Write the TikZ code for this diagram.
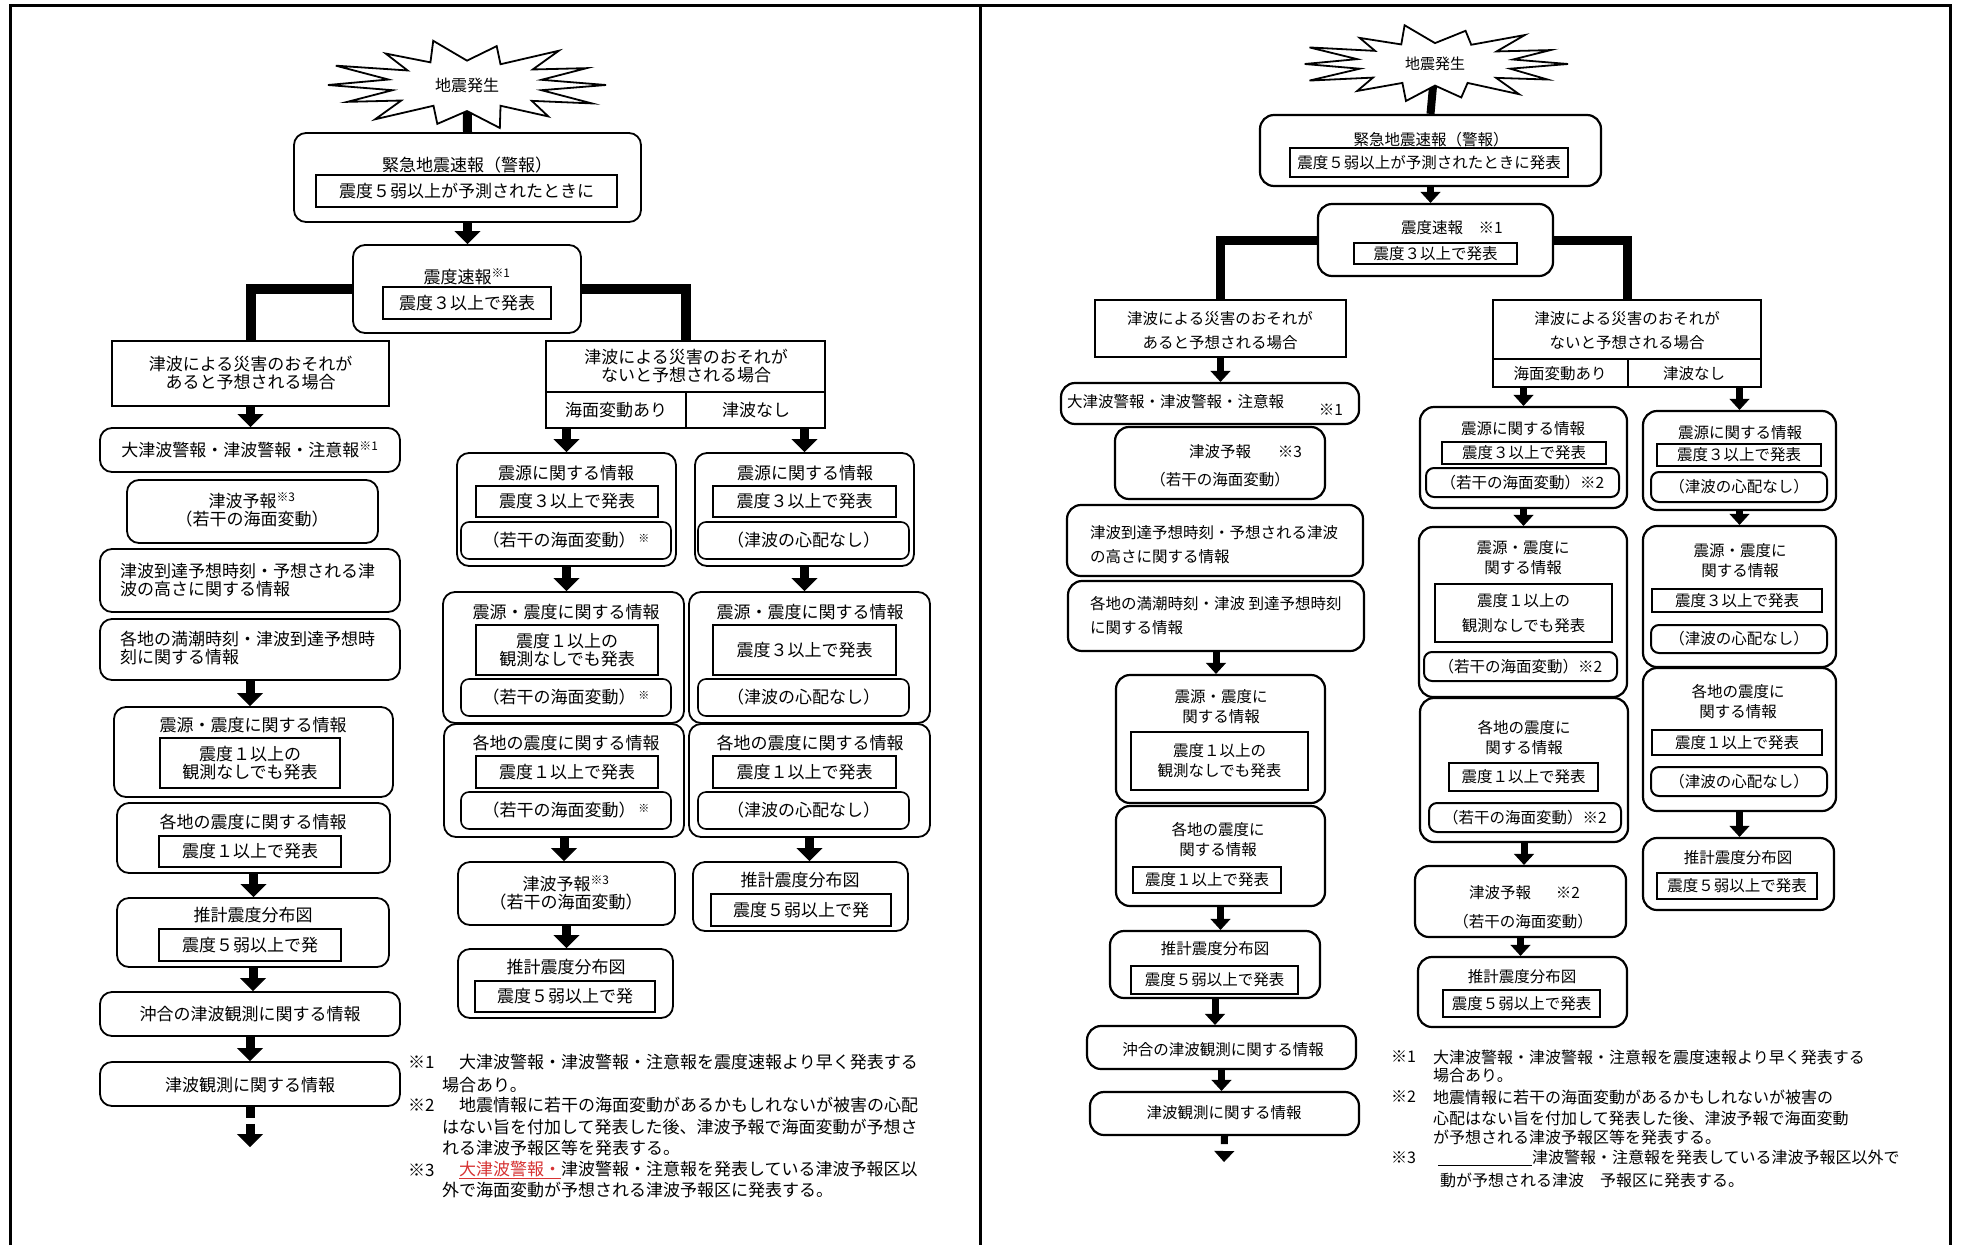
\documentclass[tikz,border=0pt]{standalone}
\usepackage{fontspec}
\setmainfont{Noto Sans CJK JP}
\usetikzlibrary{arrows.meta}
\definecolor{fnred}{RGB}{214,50,50}
\newcommand\Lf{\fontsize{17pt}{18pt}\selectfont}
\newcommand\Rf{\fontsize{15.5pt}{20pt}\selectfont}
\newcommand\Rfw{\fontsize{15.5pt}{24pt}\selectfont}
\newcommand\Ff{\fontsize{16pt}{18pt}\selectfont}
\newcommand\Ast{（若干の海面変動）\,\raisebox{4pt}{\fontsize{11pt}{11pt}\selectfont ※}}
\tikzset{
  every node/.style={inner sep=0pt},
  rbox/.style={draw,line width=1.8pt,rounded corners=12pt,fill=white},
  rbox2/.style={draw,line width=2.2pt,rounded corners=14pt,fill=white},
  sbox/.style={draw,line width=1.8pt,fill=white},
  sbox2/.style={draw,line width=2.2pt,fill=white},
  ibox/.style={draw,line width=1.6pt,align=center,font=\Lf},
  irbox/.style={draw,line width=1.6pt,rounded corners=8pt,align=center,font=\Lf},
  ibox2/.style={draw,line width=2pt,align=center,font=\Rf},
  irbox2/.style={draw,line width=2pt,rounded corners=8pt,align=center,font=\Rf},
  tL/.style={font=\Lf,align=center},
  tR/.style={font=\Rf,align=center},
  fR/.style={font=\Ff,anchor=west},
  fL/.style={font=\Lf,anchor=west},
  arrL/.style={line width=9pt,-{Triangle[width=26pt,length=13pt,line width=1pt]}},
  arrR/.style={line width=7pt,-{Triangle[width=20pt,length=11pt,line width=1pt]}},
  branchL/.style={line width=10pt,line join=miter},
  branchR/.style={line width=9pt,line join=miter},
  burstline/.style={draw,line width=1.8pt,fill=white,line join=miter},
  frame/.style={line width=3pt},
  divider/.style={line width=1.8pt},
}
\newcommand\bx[6][rbox]{\node[#1,minimum width={#4-#2},minimum height={#5-#3}] (#6) at ({(#2+#4)/2},{(#3+#5)/2}) {};}
\newcommand\bxt[7][ibox]{\node[#1,minimum width={#4-#2},minimum height={#5-#3}] (#6) at ({(#2+#4)/2},{(#3+#5)/2}) {#7};}
\begin{document}
\begin{tikzpicture}[x=1pt,y=-1pt]
\useasboundingbox (0,0) rectangle (1961,1245);
\fill[white] (0,0) rectangle (1961,1245);
% page frames
\draw[frame] (10,1245) -- (10,5) -- (1950,5) -- (1950,1245);
\draw[frame] (980,5) -- (980,1245);

% ================= LEFT PAGE =================
\coordinate (burstLc) at (467,85);
\bx{294}{133}{641}{222}{A}
\draw[line width=9pt] (burstLc) -- (A.north);
\draw[burstline,shift={(burstLc)},xscale=139,yscale=42] (0:1)
  \foreach \a/\r in {13/0.55,26/1.0,39/0.6,52/0.95,64/0.55,77/1.05,90/0.62,103/0.95,116/0.55,129/1.05,142/0.6,155/0.95,167/0.55,180/1.0,193/0.58,206/1.05,219/0.55,232/0.95,244/0.6,257/1.08,270/0.58,283/0.95,296/0.55,309/1.05,322/0.6,335/0.95,347/0.55} { -- (\a:\r) } -- cycle;
\node[font=\fontsize{16pt}{16pt}\selectfont] (burstL) at (burstLc) {地震発生};
\node[tL] (At) at (467,165) {緊急地震速報（警報）};
\bxt{316}{175}{617}{207}{Ai}{震度５弱以上が予測されたときに}
\bx{353}{245}{581}{333}{B}
\node[tL] (Bt) at (467,277) {震度速報\textsuperscript{※1}};
\bxt{383}{287}{551}{319}{Bi}{震度３以上で発表}
\bx[sbox]{112}{341}{389}{406}{C}
\node[tL] (Ct) at (C) {津波による災害のおそれが\\あると予想される場合};
\bx[sbox]{546}{341}{825}{428}{D}
\draw[divider] (546,392) -- (825,392);
\draw[divider] (686,392) -- (686,428);
\node[tL] (Dt) at (686,366) {津波による災害のおそれが\\ないと予想される場合};
\node[tL] (Da) at (616,410) {海面変動あり};
\node[tL] (Db) at (756,410) {津波なし};
% left column
\bx{100}{428}{400}{472}{E}
\node[tL] (Et) at (250,450) {大津波警報・津波警報・注意報\textsuperscript{※1}};
\bx{127}{480}{378}{543}{F}
\node[tL] (Ft) at (252,510) {津波予報\textsuperscript{※3}\\（若干の海面変動）};
\bx{100}{549}{400}{612}{G}
\node[tL,align=left,anchor=west] (Gt) at (120,580) {津波到達予想時刻・予想される津\\波の高さに関する情報};
\bx{100}{619}{400}{680}{H}
\node[tL,align=left,anchor=west] (Ht) at (120,648) {各地の満潮時刻・津波到達予想時\\刻に関する情報};
\bx{114}{707}{393}{797}{I}
\node[tL] (It) at (253,725) {震源・震度に関する情報};
\bxt{160}{738}{340}{788}{Ii}{震度１以上の\\観測なしでも発表}
\bx{117}{803}{390}{873}{J}
\node[tL] (Jt) at (253,822) {各地の震度に関する情報};
\bxt{159}{836}{341}{867}{Ji}{震度１以上で発表}
\bx{117}{898}{389}{967}{K}
\node[tL] (Kt) at (253,915) {推計震度分布図};
\bxt{159}{929}{341}{961}{Ki}{震度５弱以上で発}
\bx{100}{992}{400}{1036}{L}
\node[tL] (Lt) at (250,1014) {沖合の津波観測に関する情報};
\bx{100}{1062}{400}{1106}{M}
\node[tL] (Mt) at (250,1085) {津波観測に関する情報};
\coordinate (Mend) at (250,1147);
% middle column
\bx{457}{453}{676}{566}{N}
\node[tL] (Nt) at (566,473) {震源に関する情報};
\bxt{476}{486}{658}{517}{Ni}{震度３以上で発表}
\bxt[irbox]{461}{522}{671}{559}{Nr}{\Ast}
\bx{443}{592}{684}{723}{O}
\node[tL] (Ot) at (566,612) {震源・震度に関する情報};
\bxt{476}{625}{658}{675}{Oi}{震度１以上の\\観測なしでも発表}
\bxt[irbox]{461}{679}{671}{716}{Or}{\Ast}
\bx{444}{724}{684}{837}{P}
\node[tL] (Pt) at (566,743) {各地の震度に関する情報};
\bxt{476}{756}{658}{788}{Pi}{震度１以上で発表}
\bxt[irbox]{461}{792}{671}{829}{Pr}{\Ast}
\bx{458}{862}{675}{925}{Q}
\node[tL] (Qt) at (566,893) {津波予報\textsuperscript{※3}\\（若干の海面変動）};
\bx{458}{949}{673}{1018}{R}
\node[tL] (Rt) at (566,967) {推計震度分布図};
\bxt{475}{981}{655}{1012}{Ri}{震度５弱以上で発}
% right column
\bx{695}{453}{914}{566}{S}
\node[tL] (St) at (805,473) {震源に関する情報};
\bxt{713}{486}{896}{517}{Si}{震度３以上で発表}
\bxt[irbox]{698}{522}{909}{559}{Sr}{（津波の心配なし）}
\bx{689}{592}{930}{723}{T}
\node[tL] (Tt) at (810,612) {震源・震度に関する情報};
\bxt{713}{625}{896}{675}{Ti}{震度３以上で発表}
\bxt[irbox]{698}{679}{909}{716}{Tr}{（津波の心配なし）}
\bx{689}{724}{930}{837}{U}
\node[tL] (Ut) at (810,743) {各地の震度に関する情報};
\bxt{713}{756}{896}{788}{Ui}{震度１以上で発表}
\bxt[irbox]{698}{792}{909}{829}{Ur}{（津波の心配なし）}
\bx{693}{862}{908}{931}{V}
\node[tL] (Vt) at (800,880) {推計震度分布図};
\bxt{711}{894}{891}{926}{Vi}{震度５弱以上で発}
% connectors left page
\draw[arrL] (A.south) -- (A.south |- B.north);
\draw[branchL] (B.west) -| (C.north);
\draw[branchL] (B.east) -| (D.north);
\draw[arrL] (C.south) -- (C.south |- E.north);
\draw[arrL] (H.south) -- (H.south |- I.north);
\draw[arrL] (J.south) -- (J.south |- K.north);
\draw[arrL] (K.south) -- (K.south |- L.north);
\draw[arrL] (L.south) -- (L.south |- M.north);
\draw[arrL,dash pattern=on 11pt off 6pt on 60pt] (M.south) -- (Mend);
\draw[arrL] (N.north |- D.south) -- (N.north);
\draw[arrL] (N.south) -- (N.south |- O.north);
\draw[arrL] (P.south) -- (P.south |- Q.north);
\draw[arrL] (Q.south) -- (Q.south |- R.north);
\draw[arrL] (S.north |- D.south) -- (S.north);
\draw[arrL] (S.south) -- (S.south |- T.north);
\draw[arrL] (U.south) -- (U.south |- V.north);
% footnotes left
\node[fL] (f1m) at (408,1062) {※1};
\node[fL] (f1a) at (459,1062) {大津波警報・津波警報・注意報を震度速報より早く発表する};
\node[fL] (f1b) at (442,1085) {場合あり。};
\node[fL] (f2m) at (408,1105) {※2};
\node[fL] (f2a) at (459,1105) {地震情報に若干の海面変動があるかもしれないが被害の心配};
\node[fL] (f2b) at (442,1127) {はない旨を付加して発表した後、津波予報で海面変動が予想さ};
\node[fL] (f2c) at (442,1148) {れる津波予報区等を発表する。};
\node[fL] (f3m) at (408,1170) {※3};
\node[fL] (f3a) at (459,1170) {\textcolor{fnred}{\underline{大津波警報・}}津波警報・注意報を発表している津波予報区以};
\node[fL] (f3b) at (442,1190) {外で海面変動が予想される津波予報区に発表する。};

% ================= RIGHT PAGE =================
\coordinate (burstRc) at (1435,64);
\bx[rbox2]{1260}{115}{1601}{186}{A2}
\draw[line width=8pt] (burstRc) -- (A2.north);
\draw[burstline,shift={(burstRc)},xscale=133,yscale=36] (0:1)
  \foreach \a/\r in {13/0.58,27/0.95,40/0.6,53/1.05,65/0.58,78/0.95,90/0.6,102/1.05,115/0.58,128/0.95,141/0.6,154/1.05,167/0.58,180/0.98,193/0.6,206/1.05,219/0.58,232/0.92,245/0.6,258/1.1,270/0.58,284/0.95,297/0.6,310/1.05,323/0.58,336/0.95,348/0.6} { -- (\a:\r) } -- cycle;
\node[font=\fontsize{15pt}{15pt}\selectfont] (burstR) at (burstRc) {地震発生};
\node[tR] (A2t) at (1431,140) {緊急地震速報（警報）};
\bxt[ibox2]{1290}{148}{1568}{177}{A2i}{震度５弱以上が予測されたときに発表}
\bx[rbox2]{1318}{204}{1553}{276}{B2}
\node[tR] (B2t) at (1452,228) {震度速報\quad ※1};
\bxt[ibox2]{1354}{243}{1517}{264}{B2i}{震度３以上で発表}
\bx[sbox2]{1095}{300}{1346}{357}{C2}
\node[tR,font=\Rfw] (C2t) at (1220,331) {津波による災害のおそれが\\あると予想される場合};
\bx[sbox2]{1493}{300}{1761}{387}{D2}
\draw[divider] (1493,359) -- (1761,359);
\draw[divider] (1628,359) -- (1628,387);
\node[tR,font=\Rfw] (D2t) at (1627,331) {津波による災害のおそれが\\ないと予想される場合};
\node[tR] (D2a) at (1560,374) {海面変動あり};
\node[tR] (D2b) at (1694,374) {津波なし};
% left column right page
\bx[rbox2]{1061}{383}{1359}{424}{E2}
\node[tR,anchor=west] (E2t) at (1067,402) {大津波警報・津波警報・注意報};
\node[tR] (E2n) at (1331,410) {※1};
\bx[rbox2]{1115}{427}{1325}{499}{F2}
\node[tR] (F2t) at (1220,452) {津波予報};
\node[tR] (F2n) at (1290,452) {※3};
\node[tR] (F2u) at (1220,480) {（若干の海面変動）};
\bx[rbox2]{1067}{505}{1363}{576}{G2}
\node[tR,font=\Rfw,align=left,anchor=west] (G2t) at (1090,545) {津波到達予想時刻・予想される津波\\の高さに関する情報};
\bx[rbox2]{1068}{581}{1364}{651}{H2}
\node[tR,font=\Rfw,align=left,anchor=west] (H2t) at (1090,616) {各地の満潮時刻・津波 到達予想時刻\\に関する情報};
\bx[rbox2]{1116}{675}{1325}{803}{I2}
\node[tR] (I2t) at (1221,707) {震源・震度に\\関する情報};
\bxt[ibox2]{1131}{732}{1308}{790}{I2i}{震度１以上の\\観測なしでも発表}
\bx[rbox2]{1116}{806}{1325}{906}{J2}
\node[tR] (J2t) at (1218,840) {各地の震度に\\関する情報};
\bxt[ibox2]{1133}{867}{1281}{893}{J2i}{震度１以上で発表}
\bx[rbox2]{1110}{931}{1320}{998}{K2}
\node[tR] (K2t) at (1215,949) {推計震度分布図};
\bxt[ibox2]{1131}{966}{1298}{994}{K2i}{震度５弱以上で発表}
\bx[rbox2]{1087}{1026}{1356}{1069}{L2}
\node[tR] (L2t) at (1223,1050) {沖合の津波観測に関する情報};
\bx[rbox2]{1090}{1092}{1359}{1135}{M2}
\node[tR] (M2t) at (1224,1113) {津波観測に関する情報};
\coordinate (M2end) at (1224,1162);
% middle column right page
\bx[rbox2]{1420}{407}{1627}{508}{N2}
\node[tR] (N2t) at (1523,429) {震源に関する情報};
\bxt[ibox2]{1442}{442}{1606}{464}{N2i}{震度３以上で発表}
\bxt[irbox2]{1426}{468}{1619}{497}{N2r}{（若干の海面変動）※2}
\bx[rbox2]{1419}{527}{1627}{697}{O2}
\node[tR] (O2t) at (1523,558) {震源・震度に\\関する情報};
\bxt[ibox2,font=\fontsize{15.5pt}{25pt}\selectfont]{1435}{584}{1612}{642}{O2i}{震度１以上の\\観測なしでも発表}
\bxt[irbox2]{1424}{652}{1617}{681}{O2r}{（若干の海面変動）※2}
\bx[rbox2]{1420}{698}{1628}{842}{P2}
\node[tR] (P2t) at (1524,738) {各地の震度に\\関する情報};
\bxt[ibox2]{1449}{763}{1598}{791}{P2i}{震度１以上で発表}
\bxt[irbox2]{1429}{803}{1621}{832}{P2r}{（若干の海面変動）※2}
\bx[rbox2]{1415}{866}{1626}{937}{Q2}
\node[tR] (Q2a) at (1500,893) {津波予報};
\node[tR] (Q2b) at (1568,893) {※2};
\node[tR] (Q2c) at (1523,922) {（若干の海面変動）};
\bx[rbox2]{1418}{957}{1627}{1027}{R2}
\node[tR] (R2t) at (1522,977) {推計震度分布図};
\bxt[ibox2]{1443}{990}{1600}{1017}{R2i}{震度５弱以上で発表}
% right column right page
\bx[rbox2]{1643}{411}{1836}{510}{S2}
\node[tR] (S2t) at (1740,433) {震源に関する情報};
\bxt[ibox2]{1657}{444}{1821}{466}{S2i}{震度３以上で発表}
\bxt[irbox2]{1651}{472}{1827}{502}{S2r}{（津波の心配なし）}
\bx[rbox2]{1643}{526}{1836}{667}{T2}
\node[tR] (T2t) at (1740,561) {震源・震度に\\関する情報};
\bxt[ibox2]{1652}{589}{1822}{612}{T2i}{震度３以上で発表}
\bxt[irbox2]{1651}{625}{1827}{653}{T2r}{（津波の心配なし）}
\bx[rbox2]{1643}{668}{1836}{811}{U2}
\node[tR] (U2t) at (1738,702) {各地の震度に\\関する情報};
\bxt[ibox2]{1652}{730}{1822}{755}{U2i}{震度１以上で発表}
\bxt[irbox2]{1651}{767}{1827}{796}{U2r}{（津波の心配なし）}
\bx[rbox2]{1643}{838}{1834}{910}{V2}
\node[tR] (V2t) at (1738,858) {推計震度分布図};
\bxt[ibox2]{1657}{873}{1817}{899}{V2i}{震度５弱以上で発表}
% connectors right page
\draw[arrR] (A2.south) -- (A2.south |- B2.north);
\draw[branchR] (B2.west) -| (C2.north);
\draw[branchR] (B2.east) -| (D2.north);
\draw[arrR] (C2.south) -- (C2.south |- E2.north);
\draw[arrR] (H2.south) -- (H2.south |- I2.north);
\draw[arrR] (J2.south) -- (J2.south |- K2.north);
\draw[arrR] (K2.south) -- (K2.south |- L2.north);
\draw[arrR] (L2.south) -- (L2.south |- M2.north);
\draw[arrR,dash pattern=on 8pt off 7pt on 60pt] (M2.south) -- (M2end);
\draw[arrR] (N2.north |- D2.south) -- (N2.north);
\draw[arrR] (N2.south) -- (N2.south |- O2.north);
\draw[arrR] (P2.south) -- (P2.south |- Q2.north);
\draw[arrR] (Q2.south) -- (Q2.south |- R2.north);
\draw[arrR] (S2.north |- D2.south) -- (S2.north);
\draw[arrR] (S2.south) -- (S2.south |- T2.north);
\draw[arrR] (U2.south) -- (U2.south |- V2.north);
% footnotes right
\node[fR] (g1m) at (1391,1057) {※1};
\node[fR] (g1a) at (1433,1057) {大津波警報・津波警報・注意報を震度速報より早く発表する};
\node[fR] (g1b) at (1433,1075) {場合あり。};
\node[fR] (g2m) at (1391,1097) {※2};
\node[fR] (g2a) at (1433,1097) {地震情報に若干の海面変動があるかもしれないが被害の};
\node[fR] (g2b) at (1433,1118) {心配はない旨を付加して発表した後、津波予報で海面変動};
\node[fR] (g2c) at (1433,1137) {が予想される津波予報区等を発表する。};
\node[fR] (g3m) at (1391,1158) {※3};
\node[fR] (g3a) at (1438,1158) {\underline{\hspace*{94pt}}津波警報・注意報を発表している津波予報区以外で};
\node[fR] (g3b) at (1440,1180) {動が予想される津波　予報区に発表する。};
\end{tikzpicture}
\end{document}
